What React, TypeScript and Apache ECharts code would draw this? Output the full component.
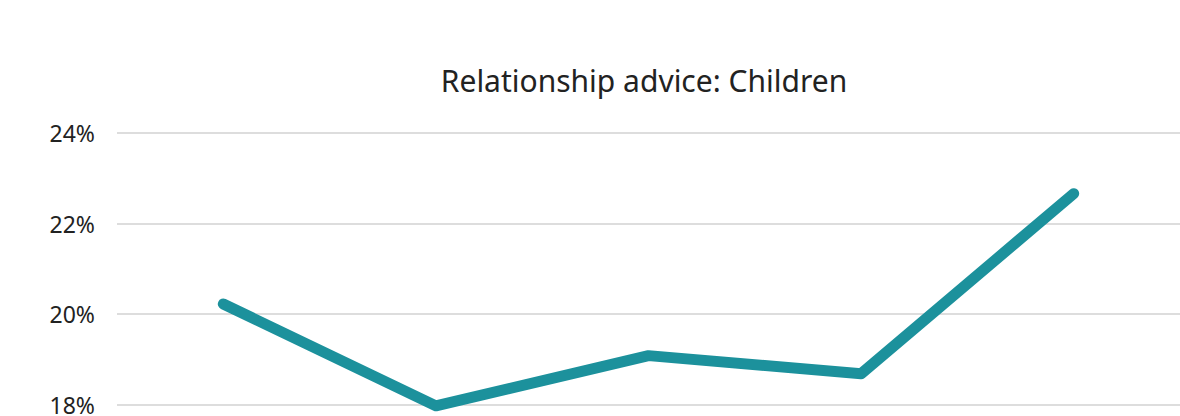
import React, { useEffect, useRef } from "react";
import * as echarts from "echarts";

const categories = ["A", "B", "C", "D", "E"];
const values = [20.22, 17.97, 19.08, 18.68, 22.66];
const yTicks = [18, 20, 22, 24];

export default function App() {
  const ref = useRef<HTMLDivElement>(null);
  useEffect(() => {
    if (!ref.current) return;
    const chart = echarts.init(ref.current, null, { renderer: "svg" });
    chart.setOption({
      animation: false,
      backgroundColor: "#ffffff",
      title: {
        text: "Relationship advice: Children",
        left: 639,
        textAlign: "center",
        top: 60,
        textStyle: {
          fontFamily: "Noto Sans",
          fontSize: 30,
          fontWeight: "normal",
          color: "#222222",
        },
      },
      grid: { left: 117, width: 1070, top: 133, bottom: 10, containLabel: false },
      xAxis: {
        type: "category",
        data: categories,
        boundaryGap: true,
        axisLine: { show: false },
        axisTick: { show: false },
        axisLabel: { show: false },
        splitLine: { show: false },
      },
      yAxis: {
        type: "value",
        min: yTicks[0],
        max: yTicks[yTicks.length - 1],
        interval: 2,
        axisLine: { show: false },
        axisTick: { show: false },
        axisLabel: {
          formatter: (v: number) => `${v}%`,
          fontFamily: "Noto Sans",
          fontSize: 23,
          color: "#222222",
          margin: 22,
        },
        splitLine: { lineStyle: { color: "#dddddd", width: 2 } },
      },
      series: [
        {
          type: "line",
          data: values,
          clip: false,
          symbol: "none",
          lineStyle: { color: "#1c919c", width: 11, cap: "round", join: "round" },
        },
      ],
    });
    return () => chart.dispose();
  }, []);
  return (
    <div
      ref={ref}
      style={{ position: "absolute", left: 0, top: 0, width: 1180, height: 416 }}
    />
  );
}
